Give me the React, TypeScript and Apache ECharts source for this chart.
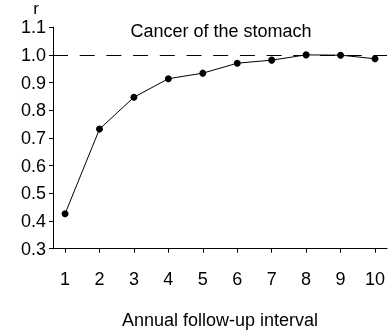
import React, { useEffect, useRef } from "react";
import * as echarts from "echarts";

const intervals = [1, 2, 3, 4, 5, 6, 7, 8, 9, 10];
const rValues = [0.426, 0.732, 0.847, 0.914, 0.934, 0.97, 0.981, 1.0, 0.999, 0.986];
const titleText = "Cancer of the stomach";
const xName = "Annual follow-up interval";
const yName = "r";
const refLine = 1.0;

export default function App() {
  const ref = useRef<HTMLDivElement>(null);
  useEffect(() => {
    if (!ref.current) return;
    const chart = echarts.init(ref.current, null, { renderer: "svg" });
    const font = "'Liberation Sans', Arial, sans-serif";
    const fs = 18;
    chart.setOption({
      animation: false,
      textStyle: { fontFamily: font },
      title: {
        text: titleText,
        left: 221,
        top: 22,
        padding: 0,
        textAlign: "center",
        textStyle: { fontFamily: font, fontSize: fs, fontWeight: "normal", color: "#000" },
      },
      graphic: [
        {
          type: "text",
          x: 36,
          y: 8,
          style: {
            text: yName,
            fontFamily: font,
            fontSize: 17,
            fill: "#000",
            align: "center",
            verticalAlign: "middle",
          },
        },
      ],
      grid: { left: 53, right: 0, top: 27.2, bottom: 85.3, containLabel: false },
      xAxis: {
        type: "value",
        min: 0.65,
        max: 10.35,
        name: xName,
        nameLocation: "middle",
        nameGap: 62,
        nameTextStyle: { fontFamily: font, fontSize: fs, color: "#000" },
        axisLine: { show: true, lineStyle: { color: "#000", width: 1 } },
        axisTick: { show: true, length: 4, customValues: intervals, lineStyle: { color: "#000" } },
        axisLabel: { customValues: intervals, margin: 21, fontSize: fs, color: "#000", fontFamily: font },
        splitLine: { show: false },
      },
      yAxis: {
        type: "value",
        min: 0.3,
        max: 1.1,
        interval: 0.1,
        axisLine: { show: true, lineStyle: { color: "#000", width: 1 } },
        axisTick: { show: true, length: 4, lineStyle: { color: "#000" } },
        axisLabel: {
          margin: 7,
          fontSize: fs,
          color: "#000",
          fontFamily: font,
          formatter: (v: number) => v.toFixed(1),
        },
        splitLine: { show: false },
      },
      series: [
        {
          type: "line",
          data: intervals.map((x, i) => [x, rValues[i]]),
          symbol: "circle",
          symbolSize: 7,
          itemStyle: { color: "#000" },
          lineStyle: { color: "#000", width: 1 },
          markLine: {
            silent: true,
            symbol: "none",
            label: { show: false },
            lineStyle: { color: "#000", type: [15, 11.7], width: 1 },
            data: [{ yAxis: refLine }],
          },
        },
      ],
    });
    return () => chart.dispose();
  }, []);
  return <div ref={ref} style={{ position: "fixed", left: 0, top: 0, width: 388, height: 334 }} />;
}
